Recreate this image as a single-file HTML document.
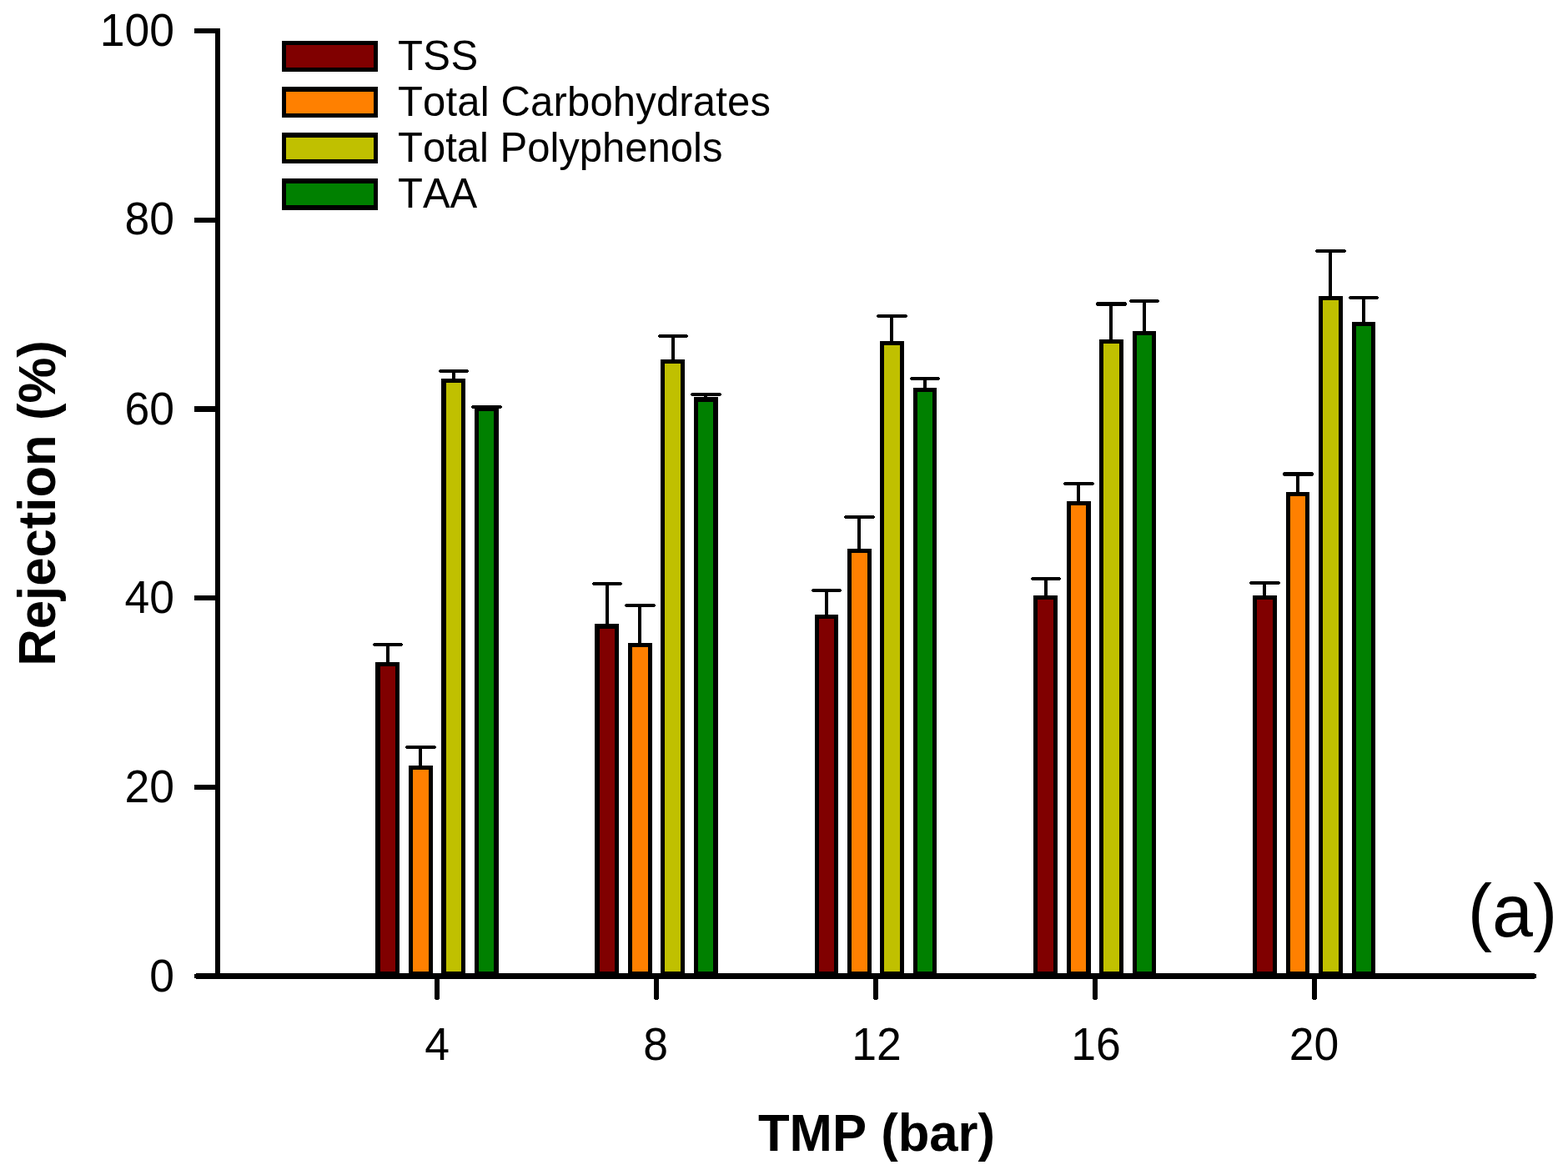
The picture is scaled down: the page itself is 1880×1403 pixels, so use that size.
<!DOCTYPE html>
<html lang="en">
<head>
<meta charset="utf-8">
<title>Rejection (%) vs TMP (bar)</title>
<style>
html,body{margin:0;padding:0;background:#fff;}
body{width:1880px;height:1403px;overflow:hidden;}
svg{display:block;}
svg text{font-family:"Liberation Sans",Arial,Helvetica,sans-serif;fill:#000;font-kerning:none;}
</style>
</head>
<body>
<svg role="img" aria-label="Bar chart of rejection (%) versus TMP (bar)" width="1880" height="1403" viewBox="0 0 1880 1403">
<rect x="0" y="0" width="1880" height="1403" fill="#ffffff"/>
<g shape-rendering="crispEdges">
<rect x="463" y="771" width="4" height="24" fill="#000"/>
<rect x="448" y="771" width="34" height="4" fill="#000"/>
<rect x="447" y="772" width="36" height="2" fill="#000"/>
<rect x="502" y="894" width="4" height="25" fill="#000"/>
<rect x="487" y="894" width="35" height="4" fill="#000"/>
<rect x="486" y="895" width="37" height="2" fill="#000"/>
<rect x="542" y="443" width="4" height="12" fill="#000"/>
<rect x="527" y="443" width="34" height="4" fill="#000"/>
<rect x="526" y="444" width="36" height="2" fill="#000"/>
<rect x="581" y="486" width="4" height="3" fill="#000"/>
<rect x="566" y="486" width="35" height="4" fill="#000"/>
<rect x="565" y="487" width="37" height="2" fill="#000"/>
<rect x="726" y="698" width="4" height="51" fill="#000"/>
<rect x="711" y="698" width="34" height="4" fill="#000"/>
<rect x="710" y="699" width="36" height="2" fill="#000"/>
<rect x="765" y="724" width="4" height="48" fill="#000"/>
<rect x="750" y="724" width="35" height="4" fill="#000"/>
<rect x="749" y="725" width="37" height="2" fill="#000"/>
<rect x="805" y="401" width="4" height="31" fill="#000"/>
<rect x="790" y="401" width="34" height="4" fill="#000"/>
<rect x="789" y="402" width="36" height="2" fill="#000"/>
<rect x="844" y="471" width="4" height="6" fill="#000"/>
<rect x="829" y="471" width="35" height="4" fill="#000"/>
<rect x="828" y="472" width="37" height="2" fill="#000"/>
<rect x="989" y="706" width="4" height="32" fill="#000"/>
<rect x="974" y="706" width="34" height="4" fill="#000"/>
<rect x="973" y="707" width="36" height="2" fill="#000"/>
<rect x="1028" y="618" width="4" height="41" fill="#000"/>
<rect x="1013" y="618" width="35" height="4" fill="#000"/>
<rect x="1012" y="619" width="37" height="2" fill="#000"/>
<rect x="1067" y="377" width="4" height="33" fill="#000"/>
<rect x="1052" y="377" width="35" height="4" fill="#000"/>
<rect x="1051" y="378" width="37" height="2" fill="#000"/>
<rect x="1107" y="452" width="4" height="14" fill="#000"/>
<rect x="1092" y="452" width="34" height="4" fill="#000"/>
<rect x="1091" y="453" width="36" height="2" fill="#000"/>
<rect x="1252" y="692" width="4" height="23" fill="#000"/>
<rect x="1237" y="692" width="34" height="4" fill="#000"/>
<rect x="1236" y="693" width="36" height="2" fill="#000"/>
<rect x="1291" y="578" width="4" height="24" fill="#000"/>
<rect x="1276" y="578" width="35" height="4" fill="#000"/>
<rect x="1275" y="579" width="37" height="2" fill="#000"/>
<rect x="1330" y="362" width="4" height="46" fill="#000"/>
<rect x="1315" y="362" width="35" height="5" fill="#000"/>
<rect x="1314" y="363" width="37" height="3" fill="#000"/>
<rect x="1370" y="359" width="4" height="39" fill="#000"/>
<rect x="1355" y="359" width="34" height="4" fill="#000"/>
<rect x="1354" y="360" width="36" height="2" fill="#000"/>
<rect x="1514" y="697" width="4" height="18" fill="#000"/>
<rect x="1499" y="697" width="35" height="4" fill="#000"/>
<rect x="1498" y="698" width="37" height="2" fill="#000"/>
<rect x="1554" y="566" width="4" height="25" fill="#000"/>
<rect x="1539" y="566" width="35" height="5" fill="#000"/>
<rect x="1538" y="567" width="37" height="3" fill="#000"/>
<rect x="1593" y="299" width="4" height="57" fill="#000"/>
<rect x="1578" y="299" width="35" height="4" fill="#000"/>
<rect x="1577" y="300" width="37" height="2" fill="#000"/>
<rect x="1633" y="355" width="4" height="32" fill="#000"/>
<rect x="1618" y="355" width="34" height="4" fill="#000"/>
<rect x="1617" y="356" width="36" height="2" fill="#000"/>
<rect x="450" y="794" width="29" height="374" fill="#000"/>
<rect x="456" y="799" width="18" height="366" fill="#800000"/>
<rect x="490" y="918" width="29" height="250" fill="#000"/>
<rect x="495" y="923" width="19" height="242" fill="#FF8000"/>
<rect x="529" y="454" width="29" height="714" fill="#000"/>
<rect x="535" y="459" width="18" height="706" fill="#C0C000"/>
<rect x="569" y="488" width="29" height="680" fill="#000"/>
<rect x="574" y="493" width="18" height="672" fill="#008000"/>
<rect x="713" y="748" width="29" height="420" fill="#000"/>
<rect x="719" y="754" width="18" height="411" fill="#800000"/>
<rect x="753" y="771" width="29" height="397" fill="#000"/>
<rect x="758" y="776" width="19" height="389" fill="#FF8000"/>
<rect x="792" y="431" width="29" height="737" fill="#000"/>
<rect x="797" y="436" width="19" height="729" fill="#C0C000"/>
<rect x="832" y="476" width="29" height="692" fill="#000"/>
<rect x="837" y="482" width="18" height="683" fill="#008000"/>
<rect x="977" y="737" width="28" height="431" fill="#000"/>
<rect x="982" y="742" width="18" height="423" fill="#800000"/>
<rect x="1016" y="658" width="29" height="510" fill="#000"/>
<rect x="1021" y="663" width="19" height="502" fill="#FF8000"/>
<rect x="1055" y="409" width="29" height="759" fill="#000"/>
<rect x="1060" y="414" width="19" height="751" fill="#C0C000"/>
<rect x="1095" y="465" width="28" height="703" fill="#000"/>
<rect x="1100" y="470" width="18" height="695" fill="#008000"/>
<rect x="1239" y="714" width="29" height="454" fill="#000"/>
<rect x="1244" y="719" width="19" height="446" fill="#800000"/>
<rect x="1279" y="601" width="29" height="567" fill="#000"/>
<rect x="1284" y="606" width="18" height="559" fill="#FF8000"/>
<rect x="1318" y="407" width="29" height="761" fill="#000"/>
<rect x="1323" y="412" width="19" height="753" fill="#C0C000"/>
<rect x="1358" y="397" width="28" height="771" fill="#000"/>
<rect x="1363" y="402" width="18" height="763" fill="#008000"/>
<rect x="1502" y="714" width="29" height="454" fill="#000"/>
<rect x="1507" y="719" width="19" height="446" fill="#800000"/>
<rect x="1542" y="590" width="28" height="578" fill="#000"/>
<rect x="1547" y="595" width="18" height="570" fill="#FF8000"/>
<rect x="1581" y="355" width="29" height="813" fill="#000"/>
<rect x="1586" y="360" width="19" height="805" fill="#C0C000"/>
<rect x="1621" y="386" width="28" height="782" fill="#000"/>
<rect x="1626" y="391" width="18" height="774" fill="#008000"/>
<rect x="258" y="34" width="6" height="1140" fill="#000"/>
<rect x="235" y="1167" width="1605" height="7" fill="#000"/>
<rect x="233" y="1168" width="1609" height="5" fill="#000"/>
<rect x="233" y="34" width="28" height="6" fill="#000"/>
<rect x="233" y="261" width="28" height="6" fill="#000"/>
<rect x="233" y="487" width="28" height="7" fill="#000"/>
<rect x="233" y="714" width="28" height="6" fill="#000"/>
<rect x="233" y="941" width="28" height="6" fill="#000"/>
<rect x="521" y="1173" width="6" height="25" fill="#000"/>
<rect x="522" y="1198" width="4" height="1" fill="#000"/>
<rect x="784" y="1173" width="6" height="25" fill="#000"/>
<rect x="785" y="1198" width="4" height="1" fill="#000"/>
<rect x="1047" y="1173" width="6" height="25" fill="#000"/>
<rect x="1048" y="1198" width="4" height="1" fill="#000"/>
<rect x="1310" y="1173" width="6" height="25" fill="#000"/>
<rect x="1311" y="1198" width="4" height="1" fill="#000"/>
<rect x="1573" y="1173" width="6" height="25" fill="#000"/>
<rect x="1574" y="1198" width="4" height="1" fill="#000"/>
<rect x="338" y="49" width="115" height="37" fill="#000"/>
<rect x="343" y="54" width="105" height="27" fill="#800000"/>
<rect x="338" y="104" width="115" height="37" fill="#000"/>
<rect x="343" y="110" width="105" height="26" fill="#FF8000"/>
<rect x="338" y="159" width="115" height="37" fill="#000"/>
<rect x="343" y="165" width="105" height="26" fill="#C0C000"/>
<rect x="338" y="214" width="115" height="38" fill="#000"/>
<rect x="343" y="220" width="105" height="26" fill="#008000"/>
</g>
<g>
<text transform="translate(209 55) scale(1 1.04)" font-size="53.5" text-anchor="end" font-weight="normal">100</text>
<text transform="translate(209 281) scale(1 1.04)" font-size="53.5" text-anchor="end" font-weight="normal">80</text>
<text transform="translate(209 508.5) scale(1 1.04)" font-size="53.5" text-anchor="end" font-weight="normal">60</text>
<text transform="translate(209 735) scale(1 1.04)" font-size="53.5" text-anchor="end" font-weight="normal">40</text>
<text transform="translate(209 961.5) scale(1 1.04)" font-size="53.5" text-anchor="end" font-weight="normal">20</text>
<text transform="translate(209 1189) scale(1 1.04)" font-size="53.5" text-anchor="end" font-weight="normal">0</text>
<text transform="translate(524 1271) scale(1 1.04)" font-size="53.5" text-anchor="middle" font-weight="normal">4</text>
<text transform="translate(786 1271) scale(1 1.04)" font-size="53.5" text-anchor="middle" font-weight="normal">8</text>
<text transform="translate(1051 1271) scale(1 1.04)" font-size="53.5" text-anchor="middle" font-weight="normal">12</text>
<text transform="translate(1314 1271) scale(1 1.04)" font-size="53.5" text-anchor="middle" font-weight="normal">16</text>
<text transform="translate(1575.5 1271) scale(1 1.04)" font-size="53.5" text-anchor="middle" font-weight="normal">20</text>
<text transform="translate(477 84) scale(1 1.02)" font-size="49" text-anchor="start" font-weight="normal" letter-spacing="0.4">TSS</text>
<text transform="translate(477 139) scale(1 1.02)" font-size="49" text-anchor="start" font-weight="normal" letter-spacing="0.17">Total Carbohydrates</text>
<text transform="translate(477 194) scale(1 1.02)" font-size="49" text-anchor="start" font-weight="normal">Total Polyphenols</text>
<text transform="translate(477 249) scale(1 1.02)" font-size="49" text-anchor="start" font-weight="normal">TAA</text>
<text transform="translate(1051 1380) scale(0.986 1.01)" font-size="62.5" text-anchor="middle" font-weight="bold">TMP (bar)</text>
<text transform="translate(66 603.5) rotate(-90) scale(0.987 1.02)" font-size="62.5" text-anchor="middle" font-weight="bold">Rejection (%)</text>
<text transform="translate(1813.5 1122.6) scale(1 1.005)" font-size="88" text-anchor="middle" font-weight="normal">(a)</text>
</g>
</svg>
</body>
</html>
